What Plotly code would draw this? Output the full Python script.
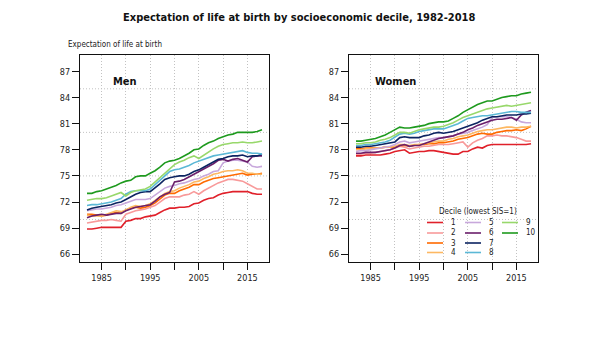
import plotly.graph_objects as go

# Years covered by the series
years = list(range(1982, 2019))

# Decile labels and line colours (decile 1 = lowest SIS)
deciles = ["1", "2", "3", "4", "5", "6", "7", "8", "9", "10"]
colors = ["#E0202A", "#F89A9A", "#FF6A00", "#FDB862", "#C8A8DC",
          "#6B1F6B", "#0C2461", "#5BB8D6", "#98D86B", "#1E9A1E"]

# Men: life expectancy at birth by decile
men_d1 = [68.9, 68.9, 69.0, 69.1, 69.1, 69.1, 69.1, 69.1, 69.8, 69.9, 70.1, 70.1, 70.3, 70.4, 70.5, 70.8, 71.1, 71.3, 71.3,
          71.4, 71.4, 71.5, 71.8, 71.9, 72.2, 72.4, 72.5, 72.8, 73.0, 73.1, 73.2, 73.2, 73.2, 73.2, 73.0, 72.9, 72.9]
men_d2 = [69.6, 69.7, 69.8, 69.9, 69.9, 70.0, 69.9, 69.8, 70.6, 70.8, 71.0, 71.1, 71.2, 71.4, 71.6, 72.0, 72.4, 72.6, 72.6,
          72.6, 72.8, 72.9, 73.2, 72.9, 73.3, 73.6, 73.9, 74.2, 74.4, 74.6, 74.6, 74.5, 74.4, 74.1, 73.8, 73.5, 73.5]
men_d3 = [70.6, 70.6, 70.5, 70.4, 70.5, 70.7, 70.8, 70.7, 71.1, 71.3, 71.4, 71.3, 71.4, 71.6, 71.9, 72.3, 72.8, 73.0, 73.0,
          73.3, 73.5, 73.7, 74.0, 74.0, 74.3, 74.5, 74.7, 74.8, 74.9, 75.0, 75.1, 75.2, 75.3, 75.1, 75.2, 75.2, 75.3]
men_d4 = [70.5, 70.4, 70.4, 70.4, 70.6, 70.8, 71.0, 70.9, 71.1, 71.4, 71.6, 71.5, 71.6, 71.8, 72.2, 72.6, 73.0, 73.2, 73.3,
          73.6, 73.8, 74.0, 74.3, 74.4, 74.7, 74.9, 75.2, 75.3, 75.5, 75.6, 75.6, 75.7, 75.6, 75.3, 75.3, 75.2, 75.2]
men_d5 = [71.0, 71.1, 71.2, 71.2, 71.3, 71.4, 71.6, 71.7, 71.9, 72.1, 72.3, 72.3, 72.3, 72.4, 72.8, 73.2, 73.6, 73.8, 73.9,
          74.1, 74.2, 74.4, 74.6, 74.7, 75.0, 75.2, 75.5, 75.6, 76.5, 76.7, 76.8, 76.8, 76.7, 76.6, 76.1, 76.0, 76.1]
men_d6 = [70.2, 70.4, 70.5, 70.6, 70.5, 70.6, 70.7, 70.7, 71.0, 71.2, 71.4, 71.5, 71.6, 71.7, 72.1, 72.6, 72.9, 73.1, 74.3,
          74.4, 74.6, 74.9, 75.2, 75.5, 75.8, 76.1, 76.4, 76.8, 76.9, 76.7, 76.9, 77.0, 76.8, 76.6, 77.2, 77.3, 77.3]
men_d7 = [71.1, 71.3, 71.4, 71.5, 71.6, 71.7, 71.9, 72.0, 72.3, 72.6, 72.9, 73.1, 73.2, 73.2, 73.6, 74.1, 74.6, 74.8, 74.9,
          75.0, 75.0, 75.2, 75.5, 75.7, 76.0, 76.3, 76.6, 76.9, 77.0, 77.2, 77.3, 77.3, 77.4, 77.2, 77.3, 77.3, 77.5]
men_d8 = [71.6, 71.7, 71.7, 71.8, 71.9, 72.0, 72.2, 72.4, 72.9, 73.2, 73.3, 73.3, 73.3, 73.5, 74.0, 74.6, 75.1, 75.5, 75.7,
          75.8, 76.0, 76.2, 76.5, 76.7, 76.9, 77.1, 77.3, 77.4, 77.5, 77.6, 77.7, 77.8, 77.9, 77.7, 77.6, 77.6, 77.5]
men_d9 = [72.2, 72.3, 72.4, 72.4, 72.5, 72.7, 72.9, 73.1, 72.7, 73.1, 73.3, 73.4, 73.5, 73.8, 74.3, 74.9, 75.4, 75.8, 76.3,
          76.6, 76.8, 77.1, 77.3, 77.0, 77.4, 77.8, 78.1, 78.4, 78.6, 78.7, 78.8, 78.8, 78.9, 78.8, 78.8, 78.9, 79.0]
men_d10 = [73.0, 73.0, 73.2, 73.3, 73.5, 73.7, 73.9, 74.2, 74.4, 74.5, 74.9, 75.0, 75.0, 75.3, 75.6, 76.0, 76.5, 76.7, 76.8,
           77.0, 77.3, 77.6, 78.0, 78.1, 78.5, 78.8, 79.0, 79.3, 79.5, 79.7, 79.8, 80.0, 80.0, 80.0, 80.0, 80.1, 80.3]

# Women: life expectancy at birth by decile
women_d1 = [77.3, 77.3, 77.4, 77.4, 77.4, 77.4, 77.5, 77.6, 77.8, 77.9, 78.0, 77.6, 77.7, 77.8, 77.8, 77.9, 77.9, 77.8, 77.7,
            77.6, 77.5, 77.5, 77.8, 77.8, 78.1, 78.3, 78.2, 78.5, 78.6, 78.6, 78.6, 78.6, 78.6, 78.6, 78.6, 78.6, 78.7]
women_d2 = [77.5, 77.5, 77.6, 77.6, 77.7, 77.8, 77.9, 78.0, 78.2, 78.4, 78.3, 78.1, 78.2, 78.3, 78.4, 78.4, 78.5, 78.6, 78.6,
            78.6, 78.7, 78.8, 78.9, 78.3, 78.8, 79.1, 79.3, 79.6, 79.6, 79.7, 79.6, 79.6, 79.5, 79.4, 79.2, 79.0, 79.0]
women_d3 = [78.1, 78.1, 78.2, 78.2, 78.2, 78.2, 78.3, 78.3, 78.3, 78.5, 78.5, 78.4, 78.5, 78.6, 78.6, 78.7, 78.7, 78.8, 78.8,
            78.9, 79.0, 79.2, 79.3, 79.4, 79.6, 79.8, 79.9, 79.8, 79.8, 80.0, 80.1, 80.2, 80.2, 80.3, 80.2, 80.4, 80.7]
women_d4 = [78.0, 78.0, 78.1, 78.1, 78.2, 78.2, 78.3, 78.3, 78.4, 78.6, 78.6, 78.5, 78.6, 78.6, 78.7, 78.8, 78.9, 79.0, 79.0,
            79.2, 79.3, 79.5, 79.6, 79.7, 79.9, 80.1, 80.2, 80.3, 80.3, 80.4, 80.5, 80.6, 80.6, 80.5, 80.6, 80.6, 80.7]
women_d5 = [77.8, 77.9, 77.9, 78.0, 78.1, 78.2, 78.3, 78.4, 78.6, 78.9, 79.0, 78.8, 78.9, 79.0, 79.1, 79.2, 79.3, 79.4, 79.4,
            79.5, 79.6, 79.8, 79.9, 80.0, 80.2, 80.4, 80.6, 80.9, 81.7, 81.8, 81.8, 81.8, 81.7, 81.5, 81.2, 81.1, 81.1]
women_d6 = [77.6, 77.6, 77.7, 77.7, 77.7, 77.8, 77.9, 78.0, 78.2, 78.5, 78.6, 78.4, 78.5, 78.5, 78.7, 78.9, 79.1, 79.3, 79.4,
            79.5, 79.6, 79.8, 80.0, 80.3, 80.5, 80.8, 81.0, 81.2, 81.4, 81.5, 81.5, 81.6, 81.7, 81.4, 82.0, 82.3, 82.5]
women_d7 = [78.3, 78.3, 78.4, 78.4, 78.5, 78.6, 78.7, 78.8, 78.9, 79.4, 79.5, 79.4, 79.4, 79.4, 79.6, 79.7, 79.9, 80.0, 79.9,
            80.0, 80.1, 80.3, 80.5, 80.7, 80.9, 81.1, 81.4, 81.6, 81.8, 81.8, 81.9, 82.0, 82.0, 82.0, 82.1, 82.1, 82.2]
women_d8 = [78.5, 78.5, 78.6, 78.6, 78.7, 78.8, 78.9, 79.1, 79.5, 79.8, 79.9, 79.8, 79.9, 80.1, 80.2, 80.3, 80.4, 80.4, 80.4,
            80.6, 80.8, 81.0, 81.3, 81.6, 81.7, 81.8, 81.9, 81.9, 82.0, 82.1, 82.2, 82.3, 82.4, 82.4, 82.3, 82.3, 82.3]
women_d9 = [78.7, 78.7, 78.8, 78.8, 78.9, 79.1, 79.2, 79.4, 79.7, 80.0, 80.0, 79.9, 80.1, 80.3, 80.4, 80.5, 80.6, 80.6, 80.7,
            80.9, 81.1, 81.4, 81.7, 81.9, 82.1, 82.3, 82.5, 82.7, 82.8, 82.9, 83.0, 83.1, 83.0, 83.1, 83.2, 83.3, 83.4]
women_d10 = [79.0, 79.0, 79.1, 79.2, 79.3, 79.5, 79.7, 80.0, 80.3, 80.6, 80.5, 80.5, 80.6, 80.7, 80.8, 81.0, 81.1, 81.2, 81.2,
             81.3, 81.6, 81.9, 82.3, 82.6, 82.9, 83.2, 83.4, 83.6, 83.6, 83.8, 84.0, 84.1, 84.2, 84.2, 84.4, 84.5, 84.6]

men = [men_d1, men_d2, men_d3, men_d4, men_d5, men_d6, men_d7, men_d8, men_d9, men_d10]
women = [women_d1, women_d2, women_d3, women_d4, women_d5, women_d6, women_d7, women_d8, women_d9, women_d10]

# Axis ticks
y_ticks = [66, 69, 72, 75, 78, 81, 84, 87]
y_grid = [70, 75, 80, 85]
x_ticks = [1985, 1990, 1995, 2000, 2005, 2010, 2015]
x_ticktext = ["1985", "", "1995", "", "2005", "", "2015"]

W, H = 600, 343
FONT = "DejaVu Sans Condensed, Noto Sans, sans-serif"
GRID = "#c2c2c2"
GRID_DASH = "1px,2px"


def px(x):
    return x / W


def py(y):
    return 1 - y / H


fig = go.Figure()

for i, d in enumerate(deciles):
    fig.add_trace(go.Scatter(x=years, y=men[i], mode="lines", name=d,
                             line=dict(color=colors[i], width=1.6),
                             xaxis="x", yaxis="y", showlegend=False))
    fig.add_trace(go.Scatter(x=years, y=women[i], mode="lines", name=d,
                             line=dict(color=colors[i], width=1.6),
                             xaxis="x2", yaxis="y2", showlegend=False))

y_dom = [py(262), py(55)]
xr = [1980.56, 2019.44]
yr = [65.12, 88.88]

axis_common = dict(showline=True, linecolor="#111", linewidth=1.3, mirror=True,
                   ticks="outside", ticklen=7, tickwidth=1, tickcolor="#111",
                   tickfont=dict(family=FONT, size=9, color="#222"),
                   zeroline=False)

xaxis_kw = dict(axis_common, range=xr, tickmode="array", tickvals=x_ticks,
                ticktext=x_ticktext, showgrid=True, gridcolor=GRID,
                griddash=GRID_DASH, gridwidth=1)
yaxis_kw = dict(axis_common, range=yr, tickmode="array", tickvals=y_ticks,
                showgrid=False)

fig.update_layout(
    width=W, height=H,
    margin=dict(l=0, r=0, t=0, b=0),
    paper_bgcolor="white", plot_bgcolor="white",
    xaxis=dict(xaxis_kw, domain=[px(80), px(269)], anchor="y"),
    yaxis=dict(yaxis_kw, domain=y_dom, anchor="x"),
    xaxis2=dict(xaxis_kw, domain=[px(349), px(538)], anchor="y2"),
    yaxis2=dict(yaxis_kw, domain=y_dom, anchor="x2"),
    showlegend=False,
)

# Horizontal dotted reference lines every 5 years of life expectancy
shapes = []
for xa, ya in [("x", "y"), ("x2", "y2")]:
    for g in y_grid:
        shapes.append(dict(type="line", xref=f"{xa} domain", yref=ya,
                           x0=0, x1=1, y0=g, y1=g, layer="below",
                           line=dict(color=GRID, width=1, dash=GRID_DASH)))

annotations = [
    dict(text="<b>Expectation of life at birth by socioeconomic decile, 1982-2018</b>",
         x=px(299), y=py(17), xref="paper", yref="paper", showarrow=False,
         xanchor="center", yanchor="middle",
         font=dict(family=FONT, size=11, color="#111")),
    dict(text="Expectation of life at birth", x=px(66), y=py(45),
         xref="paper", yref="paper", showarrow=False, xanchor="left",
         yanchor="middle", font=dict(family=FONT, size=8, color="#222")),
    dict(text="<b>Men</b>", x=px(125), y=py(82), xref="paper", yref="paper",
         showarrow=False, xanchor="center", yanchor="middle",
         font=dict(family=FONT, size=11, color="#111")),
    dict(text="<b>Women</b>", x=px(395), y=py(82), xref="paper", yref="paper",
         showarrow=False, xanchor="center", yanchor="middle",
         font=dict(family=FONT, size=11, color="#111")),
    dict(text="Decile (lowest SIS=1)", x=px(478), y=py(211), xref="paper",
         yref="paper", showarrow=False, xanchor="center", yanchor="middle",
         font=dict(family=FONT, size=8, color="#222")),
]

# Legend laid out column by column: 1-4, 5-8, 9-10
col_x = [427, 465, 502]
row_y = [222.5, 233, 243, 252.5]
for i, d in enumerate(deciles):
    c, r = divmod(i, 4)
    x0 = col_x[c]
    yy = row_y[r]
    shapes.append(dict(type="line", xref="paper", yref="paper",
                       x0=px(x0), x1=px(x0 + 16), y0=py(yy), y1=py(yy),
                       line=dict(color=colors[i], width=1.6)))
    annotations.append(dict(text=d, x=px(x0 + 22), y=py(yy), xref="paper",
                            yref="paper", showarrow=False, xanchor="left",
                            yanchor="middle",
                            font=dict(family=FONT, size=8, color="#222")))

fig.update_layout(shapes=shapes, annotations=annotations)

fig.write_html("out.html")
